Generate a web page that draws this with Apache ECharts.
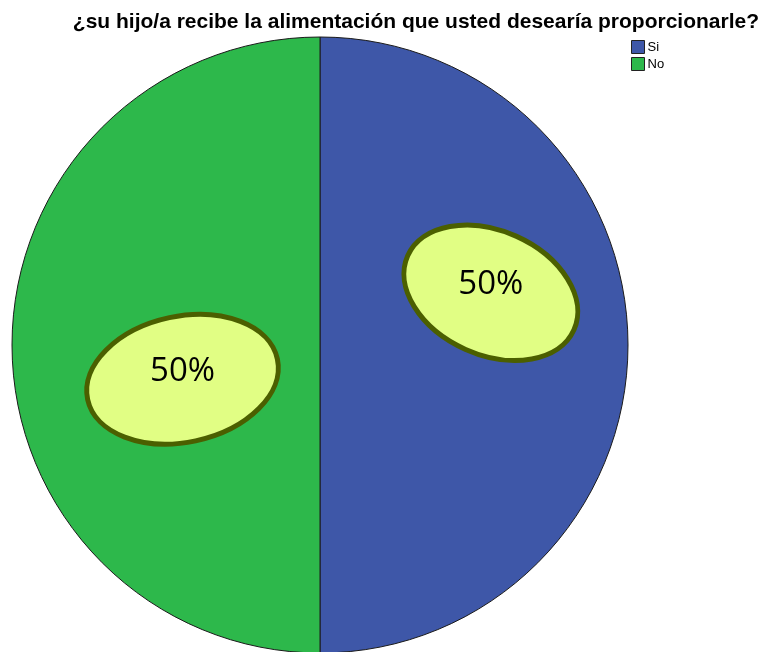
<!DOCTYPE html>
<html><head><meta charset="utf-8">
<script src="https://cdn.jsdelivr.net/npm/echarts@6/dist/echarts.min.js"></script>
<style>html,body{margin:0;padding:0;background:#fff}#c{width:770px;height:652px}</style>
</head><body><div id="c"></div>
<script>
const categories = ['Si', 'No'];
const values = [50, 50];
const colors = ['#3E57A8', '#2DB84B'];

const chart = echarts.init(document.getElementById('c'));
const cx = 320, cy = 345, R = 308;
// label bubble placement per slice: angle (deg, screen, ccw from +x), distance ratio, rotation
const bubble = [
  {ang: 17, dist: 0.58, rot: -24, rx: 91, ry: 62},
  {ang: 194, dist: 0.46, rot: 12, rx: 97, ry: 63}
];
const total = values.reduce((a, b) => a + b, 0);
const graphics = [];
values.forEach((v, i) => {
  const b = bubble[i];
  const a = b.ang * Math.PI / 180;
  const x = cx + Math.cos(a) * R * b.dist;
  const y = cy - Math.sin(a) * R * b.dist;
  graphics.push({
    type: 'ellipse', x: x, y: y, rotation: b.rot * Math.PI / 180, z: 10,
    shape: {cx: 0, cy: 0, rx: b.rx, ry: b.ry},
    style: {fill: '#E1FE84', stroke: '#4B5F00', lineWidth: 5}
  });
  graphics.push({
    type: 'text', x: x, y: y - 8, z: 11,
    style: {text: Math.round(v / total * 100) + '%', font: '33px "Open Sans", "Noto Sans", sans-serif', fill: '#000', align: 'center', verticalAlign: 'middle'}
  });
});

chart.setOption({
  animation: false,
  title: {
    text: '¿su hijo/a recibe la alimentación que usted desearía proporcionarle?',
    right: 6, top: 7,
    textStyle: {fontFamily: '"Liberation Sans", Arial, sans-serif', fontWeight: 'bold', fontSize: 21, color: '#000'}
  },
  legend: {
    orient: 'vertical', left: 626, top: 35, itemWidth: 13, itemHeight: 13, itemGap: 3,
    icon: 'rect',
    itemStyle: {borderColor: '#222', borderWidth: 1},
    textStyle: {fontFamily: '"Liberation Sans", Arial, sans-serif', fontSize: 13, color: '#000', padding: [0, 0, 0, -2]},
    data: categories
  },
  color: colors,
  series: [{
    type: 'pie', center: [cx, cy], radius: R, startAngle: 90, clockwise: true,
    label: {show: false}, labelLine: {show: false},
    itemStyle: {borderColor: '#1a1a1a', borderWidth: 1},
    emphasis: {disabled: true},
    data: categories.map((c, i) => ({name: c, value: values[i]}))
  }],
  graphic: graphics
});
</script></body></html>
